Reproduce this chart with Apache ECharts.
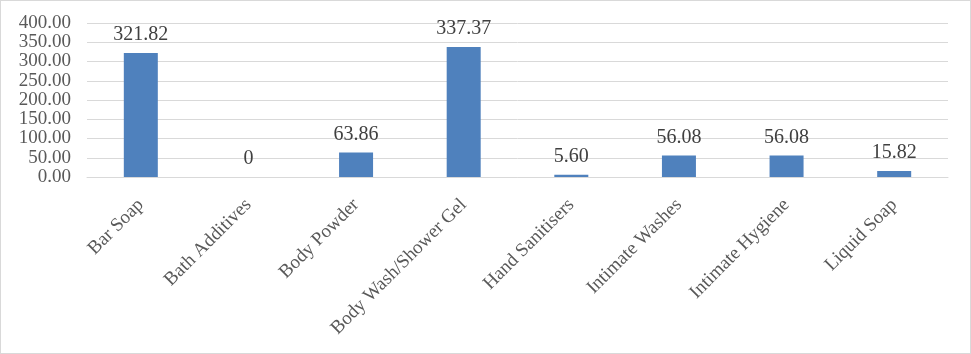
<!DOCTYPE html>
<html><head><meta charset="utf-8">
<script src="https://cdn.jsdelivr.net/npm/echarts@6/dist/echarts.min.js"></script>
<style>html,body{margin:0;padding:0;background:#fff}#c{width:971px;height:354px;box-sizing:border-box;border:1px solid #d9d9d9}</style>
</head><body><div id="c"></div>
<script>
const categories = ["Bar Soap","Bath Additives","Body Powder","Body Wash/Shower Gel","Hand Sanitisers","Intimate Washes","Intimate Hygiene","Liquid Soap"];
const values = [321.82, 0, 63.86, 337.37, 5.60, 56.08, 56.08, 15.82];
const valueLabels = ["321.82","0","63.86","337.37","5.60","56.08","56.08","15.82"];
const yTicks = {min: 0, max: 400, interval: 50};

const font = "'Liberation Serif', serif";
const chart = echarts.init(document.getElementById('c'));
chart.setOption({
  animation: false,
  grid: {left: 86, right: 22, top: 22, bottom: 176, containLabel: false},
  xAxis: {
    type: 'category', data: categories,
    axisLine: {lineStyle: {color: '#d9d9d9', width: 1}},
    axisTick: {show: false},
    axisLabel: {rotate: 45, interval: 0, color: '#595959', fontFamily: font, fontSize: 19, margin: 25}
  },
  yAxis: {
    type: 'value', min: yTicks.min, max: yTicks.max, interval: yTicks.interval,
    axisLine: {show: false}, axisTick: {show: false},
    splitLine: {lineStyle: {color: '#d9d9d9', width: 1}},
    axisLabel: {color: '#595959', fontFamily: font, fontSize: 19, margin: 16, formatter: v => v.toFixed(2)}
  },
  series: [{
    type: 'bar', data: values, barWidth: 34,
    itemStyle: {color: '#4f81bd'},
    label: {show: true, position: 'top', distance: 8, color: '#404040', fontFamily: font, fontSize: 20,
      formatter: p => valueLabels[p.dataIndex]}
  }]
});
</script></body></html>
